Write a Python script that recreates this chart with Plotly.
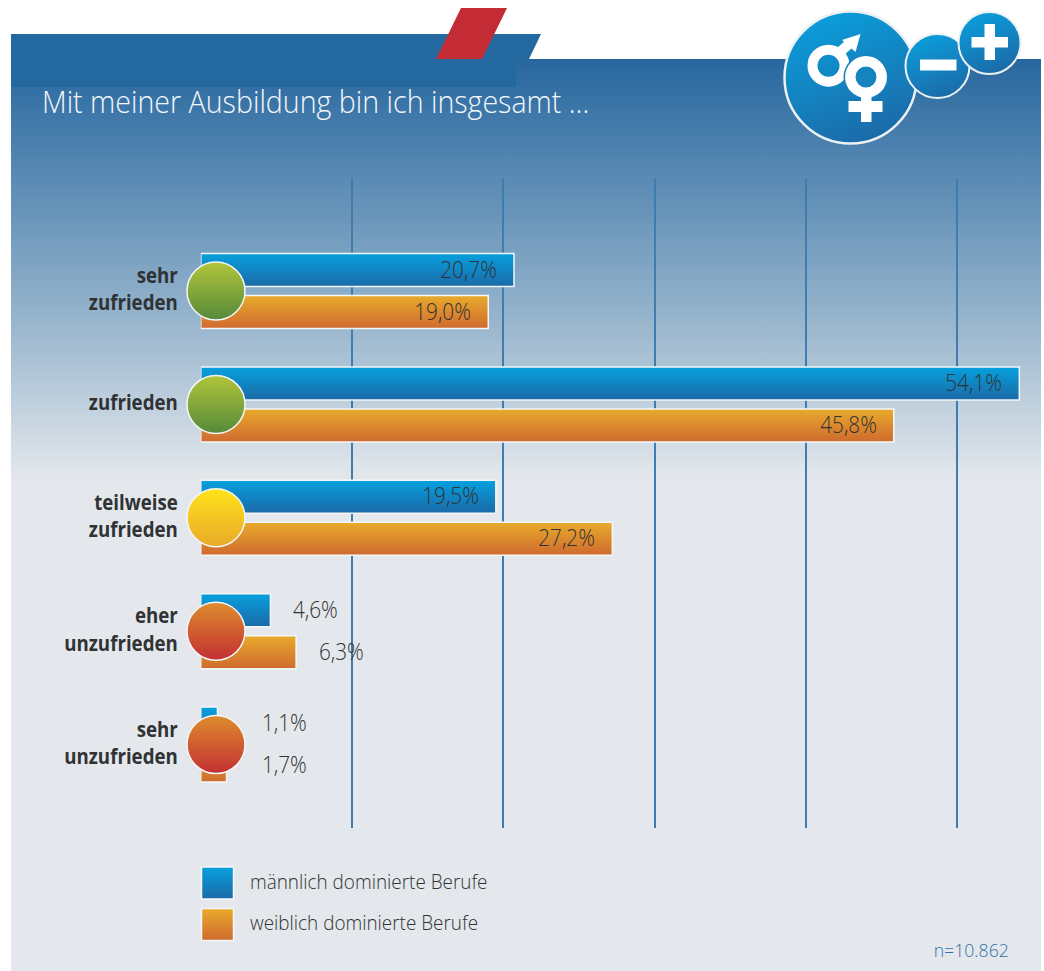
import base64
import plotly.graph_objects as go

W, H = 1044, 971
categories = ["sehr<br>zufrieden", "zufrieden", "teilweise<br>zufrieden", "eher<br>unzufrieden", "sehr<br>unzufrieden"]
male = [20.7, 54.1, 19.5, 4.6, 1.1]
female = [19.0, 45.8, 27.2, 6.3, 1.7]
series_names = ["männlich dominierte Berufe", "weiblich dominierte Berufe"]
grid_ticks = [10, 20, 30, 40, 50]
circle_top = ["#b2c53b", "#b2c53b", "#ffe31a", "#dd8c2d", "#dd8c2d"]
circle_bottom = ["#558a3a", "#558a3a", "#e8a92a", "#c42f33", "#c42f33"]
male_shift = [-15, -15, -15, 21, 42.5]
female_shift = [-15, -15, -15, 20.5, 33.5]

FONT = "Open Sans, Noto Sans, sans-serif"
DARK = "#303234"
PX10 = 151.3
X0 = 200.8
xmax = (W - X0) / PX10 * 10
TOP, BOTTOM, Y_C0, PITCH = 178, 828, 291, 113.4

background = f'''<svg xmlns="http://www.w3.org/2000/svg" width="{W}" height="{H}" viewBox="0 0 {W} {H}">
<defs>
<linearGradient id="p" x1="0" y1="0" x2="0" y2="1"><stop offset="0" stop-color="#27679f"/><stop offset="0.6" stop-color="#93b2cb"/><stop offset="1" stop-color="#e4e8ec"/></linearGradient>
<linearGradient id="b" x1="0.25" y1="0" x2="0.65" y2="1"><stop offset="0" stop-color="#0a9fdc"/><stop offset="1" stop-color="#1b6aa7"/></linearGradient>
</defs>
<rect x="11" y="59" width="1030" height="421" fill="url(#p)"/>
<rect x="11" y="480" width="1030" height="491" fill="#e4e8ec"/>
<polygon points="11,34 541,34 529,59 11,59" fill="#23689f"/>
<rect x="11" y="59" width="505" height="28" fill="#23689f"/>
<polygon points="461,8 507,8 482,59 436,59" fill="#c42c35"/>
<circle cx="850.5" cy="77.5" r="66" fill="url(#b)" stroke="#eef1f3" stroke-width="2.5"/>
<g fill="none" stroke="#fff" stroke-width="10"><circle cx="828.5" cy="65.7" r="16"/><line x1="837.5" y1="54" x2="851.5" y2="42"/></g>
<polygon points="860.5,34 842,40 855.5,52" fill="#fff"/>
<circle cx="866" cy="77" r="22.5" fill="#1583bf"/>
<circle cx="866" cy="77" r="15.7" fill="none" stroke="#fff" stroke-width="10.5"/>
<rect x="861" y="96" width="10.5" height="26" fill="#fff"/><rect x="848.5" y="101" width="34" height="11" fill="#fff"/>
<circle cx="937.5" cy="66" r="32" fill="url(#b)" stroke="#eef1f3" stroke-width="2"/>
<rect x="920" y="59.5" width="36.5" height="11" fill="#fff"/>
<circle cx="989.5" cy="43" r="31" fill="url(#b)" stroke="#eef1f3" stroke-width="2"/>
<rect x="971.5" y="37" width="36.5" height="10.5" fill="#fff"/><rect x="984.5" y="24" width="10.5" height="36" fill="#fff"/>
</svg>'''
bg_uri = "data:image/svg+xml;base64," + base64.b64encode(background.encode()).decode()

fig = go.Figure()
for name, vals, col in [(series_names[0], male, "#127fbd"), (series_names[1], female, "#dc8b2d")]:
    fig.add_bar(y=categories, x=vals, name=name, orientation="h", showlegend=False,
                marker=dict(color=col, line=dict(color="#f4f7f9", width=1.5)))

fig.add_scatter(x=[(216 - X0) / PX10 * 10] * 5, y=categories, mode="markers", showlegend=False, cliponaxis=False,
                marker=dict(size=58, color=circle_top, gradient=dict(type="vertical", color=circle_bottom),
                            line=dict(color="#f4f7f9", width=1.5)))

fig.add_scatter(x=[217.5, 217.5], y=[883, 924.5], xaxis="x2", yaxis="y2", mode="markers", showlegend=False,
                marker=dict(symbol="square", size=32, color=["#06a0de", "#e8ab2c"],
                            gradient=dict(type="vertical", color=["#1b6aa7", "#cf6a2f"]),
                            line=dict(color="#f4f7f9", width=1.5)))

annotations = []
def fmt(v):
    return f"{v:.1f}%".replace(".", ",")
for vals, shifts, ysh in [(male, male_shift, 22.5), (female, female_shift, -19.5)]:
    for c, v, s in zip(categories, vals, shifts):
        annotations.append(dict(x=v, y=c, xref="x", yref="y", text=fmt(v), showarrow=False,
                                xanchor="right" if s < 0 else "left", xshift=s, yshift=ysh,
                                font=dict(family=FONT, size=23, color=DARK, weight=300)))
annotations += [
    dict(x=40 / W, y=1 - 100 / H, xref="paper", yref="paper", text="Mit meiner Ausbildung bin ich insgesamt …",
         showarrow=False, xanchor="left", yanchor="middle", font=dict(family=FONT, size=31.5, color="#f4f7fa", weight=300)),
    dict(x=248 / W, y=1 - 881 / H, xref="paper", yref="paper", text=series_names[0], showarrow=False, xanchor="left",
         yanchor="middle", font=dict(family=FONT, size=20, color=DARK, weight=300)),
    dict(x=248 / W, y=1 - 922 / H, xref="paper", yref="paper", text=series_names[1], showarrow=False, xanchor="left",
         yanchor="middle", font=dict(family=FONT, size=20, color=DARK, weight=300)),
    dict(x=1011 / W, y=1 - 950 / H, xref="paper", yref="paper", text="n=10.862", showarrow=False, xanchor="right",
         yanchor="middle", font=dict(family=FONT, size=19, color="#2f72ab", weight=300)),
]

fig.update_layout(
    width=W, height=H, margin=dict(l=0, r=0, t=0, b=0), paper_bgcolor="white", plot_bgcolor="rgba(0,0,0,0)",
    barmode="group", bargap=0.259, bargroupgap=0.214, showlegend=False,
    images=[dict(source=bg_uri, xref="paper", yref="paper", x=0, y=1, sizex=1, sizey=1, sizing="stretch",
                 xanchor="left", yanchor="top", layer="below")],
    annotations=annotations,
    xaxis=dict(domain=[X0 / W, 1], range=[0, xmax], tickvals=grid_ticks, showticklabels=False, ticks="",
               showgrid=True, gridcolor="#3f7cb0", gridwidth=1.5, zeroline=False, showline=False),
    yaxis=dict(domain=[1 - BOTTOM / H, 1 - TOP / H], type="category", categoryorder="array", categoryarray=categories,
               range=[(BOTTOM - Y_C0) / PITCH, (TOP - Y_C0) / PITCH], showgrid=False, zeroline=False, showline=False,
               ticks="", ticklabelstandoff=22, tickfont=dict(family=FONT, size=21, color=DARK, weight=700)),
    xaxis2=dict(domain=[0, 1], range=[0, W], visible=False, anchor="y2"),
    yaxis2=dict(domain=[0, 1], range=[H, 0], visible=False, anchor="x2"),
)

post = """
document.body.style.margin='0';document.documentElement.style.overflow='hidden';
var NS='http://www.w3.org/2000/svg',svg=document.querySelector('.main-svg'),defs=svg.querySelector('defs');
var gd=document.querySelector('.js-plotly-plot');
function grad(id,a,b){var g=document.createElementNS(NS,'linearGradient');g.id=id;
 g.setAttribute('x1','0');g.setAttribute('y1','0');g.setAttribute('x2','0');g.setAttribute('y2','1');
 [[0,a],[1,b]].forEach(function(s){var t=document.createElementNS(NS,'stop');t.setAttribute('offset',s[0]);t.setAttribute('stop-color',s[1]);g.appendChild(t);});
 defs.appendChild(g);}
grad('gm','#06a0de','#1b6aa7');grad('gf','#e8ab2c','#cf6a2f');
document.querySelectorAll('.trace.bars').forEach(function(t,i){t.querySelectorAll('.point path').forEach(function(p){p.style.fill='url(#'+(i==0?'gm':'gf')+')';});});
function squeeze(el,f){var w=el.getComputedTextLength();el.setAttribute('textLength',w*f);el.setAttribute('lengthAdjust','spacingAndGlyphs');return w;}
document.querySelectorAll('.annotation').forEach(function(a){var t=a.querySelector('.annotation-text'),s=t.textContent,
 f=s.indexOf('%')>=0?0.9:s.indexOf('Mit')==0?0.907:s.indexOf('Berufe')>=0?0.945:0.93;
 var w=squeeze(t,f),an=gd.layout.annotations[+a.getAttribute('data-index')].xanchor,d=(an=='left'?-1:1)*(1-f)*w/2;
 t.setAttribute('transform',(t.getAttribute('transform')||'')+' translate('+d+',0)');});
document.querySelectorAll('.ytick text').forEach(function(t){var l=t.querySelectorAll('tspan.line');
 if(l.length){l.forEach(function(x){squeeze(x,0.89);});}else{squeeze(t,0.89);}
 t.setAttribute('transform',(t.getAttribute('transform')||'')+' translate(0,-1.5)');});
"""
fig.write_html("out.html", post_script=post, config=dict(displayModeBar=False))
